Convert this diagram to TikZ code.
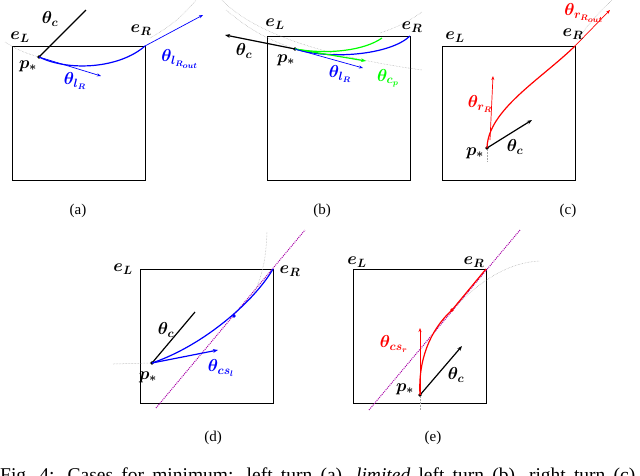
\documentclass[tikz,border=0pt]{standalone}
\usepackage{bm}
\usepackage{fontspec}
\setmainfont{Liberation Serif}
\usetikzlibrary{arrows.meta}
\begin{document}
\begin{tikzpicture}[x=1pt,y=-1pt,
  cell/.style={draw=black,line width=1pt},
  lab/.style={font=\fontsize{17}{19}\selectfont,inner sep=0pt},
  sublab/.style={font=\fontsize{15}{17}\selectfont},
  guide/.style={gray!70,densely dotted,line width=0.5pt},
  thick1/.style={line width=1.2pt},
  thin1/.style={line width=0.7pt,-{Stealth[length=4pt]}},
  pur/.style={violet!70!magenta,densely dotted,line width=1pt},
  dotn/.style={circle,fill=black,inner sep=1.4pt}]
\useasboundingbox (0,0) rectangle (640,475);
% (a)
\draw[cell] (12,46) rectangle (145,180);
\coordinate (aER) at (145,46);
\node[dotn] (aP) at (39,57) {};
\draw[guide] (5,42) to[bend right=8] (aP);
\draw[guide] (150,38) to[bend right=10] (196,0);
\draw[thick1] (aP.center) -- (86,10);
\draw[blue,thick1] (aP.center) .. controls (70,72) and (120,68) .. (aER);
\draw[blue,thin1] (aER) -- (203,15);
\draw[blue,thin1] (aP.center) -- (101,76);
\node[lab] at (20,37) {$\bm{e_L}$};
\node[lab] at (141,30) {$\bm{e_R}$};
\node[lab] at (50,19) {$\bm{\theta_c}$};
\node[lab] at (28,66) {$\bm{p_*}$};
\node[lab,blue] at (75,81) {$\bm{\theta_{l_R}}$};
\node[lab,blue] at (180,59) {$\bm{\theta_{l_{R_{out}}}}$};
\node[sublab] at (78,211) {(a)};
% (b)
\draw[cell] (267,36) rectangle (410,180);
\coordinate (bER) at (410,36);
\node[dotn] (bP) at (295,49) {};
\draw[guide] (222,0) .. controls (260,40) and (350,60) .. (422,70);
\draw[guide] (226,10) to[bend right=10] (bP);
\draw[guide] (380,33) to[bend right=8] (422,12);
\draw[thick1,-{Stealth[length=5pt]}] (bP.center) -- (225,35);
\draw[blue,thick1] (bP.center) .. controls (330,60) and (390,55) .. (bER);
\draw[green,thick1] (bP.center) .. controls (330,55) and (365,50) .. (382,38);
\draw[green,thick1,-{Stealth[length=5pt]}] (bP.center) -- (366,61);
\draw[blue,thin1] (bP.center) -- (363,68);
\node[lab] at (275,24) {$\bm{e_L}$};
\node[lab] at (412,27) {$\bm{e_R}$};
\node[lab] at (244,51) {$\bm{\theta_c}$};
\node[lab] at (286,60) {$\bm{p_*}$};
\node[lab,blue] at (340,74) {$\bm{\theta_{l_R}}$};
\node[lab,green] at (388,78) {$\bm{\theta_{c_p}}$};
\node[sublab] at (322,211) {(b)};
% (c)
\draw[cell] (442,46) rectangle (575,180);
\coordinate (cER) at (575,46);
\node[dotn] (cP) at (487,148) {};
\draw[guide] (487,150) -- (487,162);
\draw[guide] (577,40) to[bend left=5] (612,0);
\draw[thick1,-{Stealth[length=5pt]}] (cP.center) -- (532,120);
\draw[red,thick1] (cP.center) .. controls (488,110) and (540,80) .. (cER);
\draw[red,thin1] (cER) -- (610,10);
\draw[red,thin1] (490,140) -- (493,76);
\node[lab] at (455,37) {$\bm{e_L}$};
\node[lab] at (573,34) {$\bm{e_R}$};
\node[lab] at (515,147) {$\bm{\theta_c}$};
\node[lab] at (475,153) {$\bm{p_*}$};
\node[lab,red] at (480,104) {$\bm{\theta_{r_R}}$};
\node[lab,red] at (584,13) {$\bm{\theta_{r_{R_{out}}}}$};
\node[sublab] at (568,211) {(c)};
% (d)
\draw[cell] (140,269) rectangle (273,403);
\coordinate (dER) at (273,269);
\node[dotn] (dP) at (152,363) {};
\draw[pur] (156,408) -- (305,230);
\draw[guide] (113,364) -- (dP);
\draw[guide] (250,300) .. controls (262,280) and (266,260) .. (267,232);
\draw[thick1] (dP.center) -- (195,312);
\draw[blue,thick1] (dP.center) .. controls (205,345) and (255,300) .. (dER);
\node[circle,fill=blue,inner sep=1.3pt] (dM) at (234,316) {};
\draw[blue,thick1,-{Stealth[length=5pt]}] (dP.center) -- (218,350);
\node[lab] at (123,269) {$\bm{e_L}$};
\node[lab] at (290,271) {$\bm{e_R}$};
\node[lab] at (166,330) {$\bm{\theta_c}$};
\node[lab] at (148,377) {$\bm{p_*}$};
\node[lab,blue] at (221,368) {$\bm{\theta_{cs_l}}$};
\node[sublab] at (213,438) {(d)};
% (e)
\draw[cell] (353,269) rectangle (486,403);
\coordinate (eER) at (486,269);
\node[dotn] (eP) at (420,395) {};
\draw[pur] (369,410) -- (520,230);
\draw[guide] (420,397) -- (420,410);
\draw[guide] (452,310) .. controls (480,280) and (510,262) .. (540,261);
\draw[thick1,-{Stealth[length=5pt]}] (eP.center) -- (462,346);
\draw[red,thick1] (eP.center) .. controls (418,360) and (430,330) .. (452,310) -- (eER);
\node[circle,fill=red,inner sep=1.3pt] (eM) at (452,310) {};
\draw[red,thin1] (eP.center) -- (420,328);
\node[lab] at (357,262) {$\bm{e_L}$};
\node[lab] at (474,262) {$\bm{e_R}$};
\node[lab] at (456,375) {$\bm{\theta_c}$};
\node[lab] at (405,389) {$\bm{p_*}$};
\node[lab,red] at (394,344) {$\bm{\theta_{cs_r}}$};
\node[sublab] at (433,438) {(e)};
% caption
\node[anchor=base west,font=\fontsize{19.5}{22}\selectfont,inner sep=0pt] (capt) at (0,481) {\hbox to 640pt{Fig.\ 4: Cases for minimum: left turn (a), \textit{limited} left turn (b), right turn (c),}};
\end{tikzpicture}
\end{document}
